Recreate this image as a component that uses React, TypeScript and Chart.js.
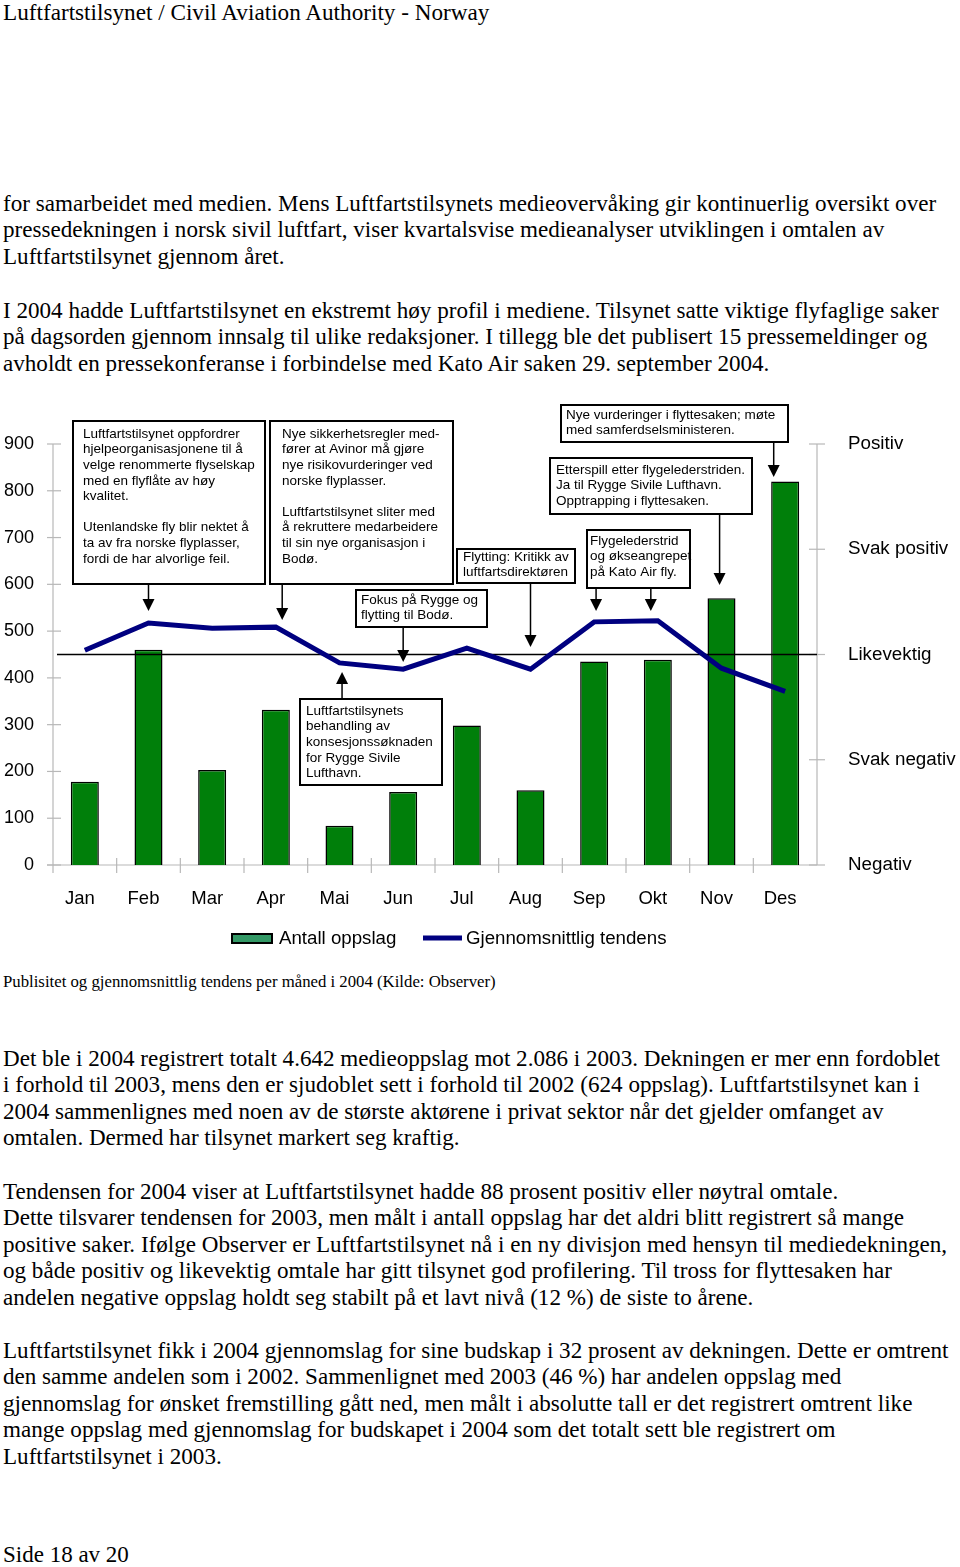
import React, { useEffect, useRef } from "react";
import { Chart, registerables } from "chart.js";

Chart.register(...registerables);

const months = ["Jan", "Feb", "Mar", "Apr", "Mai", "Jun", "Jul", "Aug", "Sep", "Okt", "Nov", "Des"];
const antallOppslag = [178, 460, 203, 332, 84, 156, 298, 160, 435, 439, 570, 820];
const tendens = [3.04, 3.3, 3.25, 3.26, 2.92, 2.86, 3.06, 2.86, 3.31, 3.32, 2.87, 2.65];
const leftTicks = [0, 100, 200, 300, 400, 500, 600, 700, 800, 900];
const rightTickLabels = ["Negativ", "Svak negativ", "Likevektig", "Svak positiv", "Positiv"];
const legendLabels = ["Antall oppslag", "Gjennomsnittlig tendens"];

// annotation boxes (canvas coords are layout, not data)
type Note = { lines: string[]; box: [number, number, number, number]; tx: number; ty: number; arrows: { month: number; y0: number; y1: number }[] };
const notes: Note[] = [
  {
    lines: ["Luftfartstilsynet oppfordrer", "hjelpeorganisasjonene til å", "velge renommerte flyselskap", "med en flyflåte av høy", "kvalitet.", "", "Utenlandske fly blir nektet å", "ta av fra norske flyplasser,", "fordi de har alvorlige feil."],
    box: [73, 421, 265, 584], tx: 83, ty: 434,
    arrows: [{ month: 1, y0: 584, y1: 611 }],
  },
  {
    lines: ["Nye sikkerhetsregler med-", "fører at Avinor må gjøre", "nye risikovurderinger ved", "norske flyplasser.", "", "Luftfartstilsynet sliter med", "å rekruttere medarbeidere", "til sin nye organisasjon i", "Bodø."],
    box: [270, 421, 453, 584], tx: 282, ty: 434,
    arrows: [{ month: 3.1, y0: 584, y1: 620 }],
  },
  {
    lines: ["Fokus på Rygge og", "flytting til Bodø."],
    box: [356, 590, 487, 627], tx: 361, ty: 600,
    arrows: [{ month: 5, y0: 627, y1: 662 }],
  },
  {
    lines: ["Flytting: Kritikk av", "luftfartsdirektøren"],
    box: [457, 549, 575, 583], tx: 463, ty: 557,
    arrows: [{ month: 7, y0: 583, y1: 647 }],
  },
  {
    lines: ["Luftfartstilsynets", "behandling av", "konsesjonssøknaden", "for Rygge Sivile", "Lufthavn."],
    box: [300, 699, 442, 785], tx: 306, ty: 711,
    arrows: [{ month: 4.04, y0: 699, y1: 672 }],
  },
  {
    lines: ["Flygelederstrid", "og økseangrepet", "på Kato Air fly."],
    box: [587, 530, 690, 588], tx: 590, ty: 541,
    arrows: [{ month: 8.03, y0: 588, y1: 611 }, { month: 8.89, y0: 588, y1: 611 }],
  },
  {
    lines: ["Etterspill etter flygelederstriden.", "Ja til Rygge Sivile Lufthavn.", "Opptrapping i flyttesaken."],
    box: [550, 458, 752, 514], tx: 556, ty: 470,
    arrows: [{ month: 9.97, y0: 514, y1: 585 }],
  },
  {
    lines: ["Nye vurderinger i flyttesaken; møte", "med samferdselsministeren."],
    box: [561, 405, 788, 442], tx: 566, ty: 415,
    arrows: [{ month: 10.82, y0: 442, y1: 477 }],
  },
];

const CANVAS_TOP = 395;
const SANS = "Arial, 'Liberation Sans', sans-serif";

const para1 = [
  "for samarbeidet med medien. Mens Luftfartstilsynets medieovervåking gir kontinuerlig oversikt over",
  "pressedekningen i norsk sivil luftfart, viser kvartalsvise medieanalyser utviklingen i omtalen av",
  "Luftfartstilsynet gjennom året.",
];
const para2 = [
  "I 2004 hadde Luftfartstilsynet en ekstremt høy profil i mediene. Tilsynet satte viktige flyfaglige saker",
  "på dagsorden gjennom innsalg til ulike redaksjoner. I tillegg ble det publisert 15 pressemeldinger og",
  "avholdt en pressekonferanse i forbindelse med Kato Air saken 29. september 2004.",
];
const para3 = [
  "Det ble i 2004 registrert totalt 4.642 medieoppslag mot 2.086 i 2003. Dekningen er mer enn fordoblet",
  "i forhold til 2003, mens den er sjudoblet sett i forhold til 2002 (624 oppslag). Luftfartstilsynet kan i",
  "2004 sammenlignes med noen av de største aktørene i privat sektor når det gjelder omfanget av",
  "omtalen. Dermed har tilsynet markert seg kraftig.",
];
const para4 = [
  "Tendensen for 2004 viser at Luftfartstilsynet hadde 88 prosent positiv eller nøytral omtale.",
  "Dette tilsvarer tendensen for 2003, men målt i antall oppslag har det aldri blitt registrert så mange",
  "positive saker. Ifølge Observer er Luftfartstilsynet nå i en ny divisjon med hensyn til mediedekningen,",
  "og både positiv og likevektig omtale har gitt tilsynet god profilering. Til tross for flyttesaken har",
  "andelen negative oppslag holdt seg stabilt på et lavt nivå (12 %) de siste to årene.",
];
const para5 = [
  "Luftfartstilsynet fikk i 2004 gjennomslag for sine budskap i 32 prosent av dekningen. Dette er omtrent",
  "den samme andelen som i 2002. Sammenlignet med 2003 (46 %) har andelen oppslag med",
  "gjennomslag for ønsket fremstilling gått ned, men målt i absolutte tall er det registrert omtrent like",
  "mange oppslag med gjennomslag for budskapet i 2004 som det totalt sett ble registrert om",
  "Luftfartstilsynet i 2003.",
];

function TextLines({ lines, top, size = 23.1, lh = 26.5 }: { lines: string[]; top: number; size?: number; lh?: number }) {
  return (
    <>
      {lines.map((l, i) => (
        <div
          key={i}
          style={{
            position: "absolute",
            left: 3,
            top: top + i * lh - lh / 2,
            height: lh,
            lineHeight: lh + "px",
            fontSize: size,
            whiteSpace: "nowrap",
            fontFamily: "'Liberation Serif', 'Times New Roman', serif",
            color: "#000",
          }}
        >
          {l}
        </div>
      ))}
    </>
  );
}

const notesPlugin = {
  id: "notes",
  beforeDatasetsDraw(chart: any) {
    const ctx = chart.ctx;
    const x = chart.scales.x;
    const y = chart.scales.y;
    const y1 = chart.scales.y1;
    const area = chart.chartArea;
    ctx.save();
    ctx.strokeStyle = "#b8b8b8";
    ctx.lineWidth = 1.2;
    ctx.beginPath();
    ctx.moveTo(area.left, area.top);
    ctx.lineTo(area.left, area.bottom + 8);
    ctx.stroke();
    ctx.beginPath();
    ctx.moveTo(area.left - 6, area.bottom);
    ctx.lineTo(area.right, area.bottom);
    ctx.stroke();
    ctx.beginPath();
    ctx.moveTo(area.right, y1.getPixelForValue(5));
    ctx.lineTo(area.right, area.bottom);
    ctx.stroke();
    leftTicks.forEach((v) => {
      const py = y.getPixelForValue(v);
      ctx.beginPath();
      ctx.moveTo(area.left - 6, py);
      ctx.lineTo(area.left + 8, py);
      ctx.stroke();
    });
    for (let v = 1; v <= 5; v++) {
      const py = y1.getPixelForValue(v);
      ctx.beginPath();
      ctx.moveTo(area.right - 8, py);
      ctx.lineTo(area.right + 8, py);
      ctx.stroke();
    }
    for (let i = 1; i < months.length; i++) {
      const px = x.getPixelForValue(i - 0.5);
      ctx.beginPath();
      ctx.moveTo(px, area.bottom - 7);
      ctx.lineTo(px, area.bottom + 8);
      ctx.stroke();
    }
    ctx.restore();
  },
  afterDatasetDraw(chart: any, args: any) {
    if (args.index !== 1) return;
    const ctx = chart.ctx;
    const area = chart.chartArea;
    const py = chart.scales.y1.getPixelForValue(3);
    ctx.save();
    ctx.strokeStyle = "#000";
    ctx.lineWidth = 1.5;
    ctx.beginPath();
    ctx.moveTo(area.left + 4, py);
    ctx.lineTo(area.right, py);
    ctx.stroke();
    ctx.restore();
  },
  afterDraw(chart: any) {
    const ctx = chart.ctx;
    const x = chart.scales.x;
    ctx.save();
    notes.forEach((n) => {
      const [l, t, r, b] = n.box;
      ctx.fillStyle = "#fff";
      ctx.fillRect(l, t - CANVAS_TOP, r - l, b - t);
      ctx.strokeStyle = "#000";
      ctx.lineWidth = 2;
      ctx.strokeRect(l, t - CANVAS_TOP, r - l, b - t);
      ctx.fillStyle = "#000";
      ctx.font = "13.5px " + SANS;
      ctx.textBaseline = "middle";
      ctx.textAlign = "left";
      n.lines.forEach((line, i) => {
        ctx.fillText(line, n.tx, n.ty - CANVAS_TOP + i * 15.6);
      });
      n.arrows.forEach((a) => {
        const px = x.getPixelForValue(a.month);
        const y0 = a.y0 - CANVAS_TOP;
        const y1 = a.y1 - CANVAS_TOP;
        const dir = y1 > y0 ? 1 : -1;
        const head = 12;
        ctx.strokeStyle = "#000";
        ctx.lineWidth = 1.5;
        ctx.beginPath();
        ctx.moveTo(px, y0);
        ctx.lineTo(px, y1 - dir * head);
        ctx.stroke();
        ctx.beginPath();
        ctx.moveTo(px, y1);
        ctx.lineTo(px - 6, y1 - dir * head);
        ctx.lineTo(px + 6, y1 - dir * head);
        ctx.closePath();
        ctx.fill();
      });
    });
    const ly = 939 - CANVAS_TOP;
    ctx.fillStyle = "#339966";
    ctx.fillRect(232, ly - 5, 40, 9);
    ctx.strokeStyle = "#000";
    ctx.lineWidth = 2;
    ctx.strokeRect(232, ly - 5, 40, 9);
    ctx.strokeStyle = "#000080";
    ctx.lineWidth = 5;
    ctx.beginPath();
    ctx.moveTo(423, ly - 1);
    ctx.lineTo(462, ly - 1);
    ctx.stroke();
    ctx.fillStyle = "#000";
    ctx.font = "18.7px " + SANS;
    ctx.textBaseline = "middle";
    ctx.fillText(legendLabels[0], 279, ly);
    ctx.fillText(legendLabels[1], 466, ly);
    ctx.restore();
  },
};

function ChartCanvas() {
  const ref = useRef<HTMLCanvasElement>(null);
  useEffect(() => {
    if (!ref.current) return;
    const chart = new Chart(ref.current, {
      type: "bar",
      data: {
        labels: months,
        datasets: [
          {
            type: "line",
            label: legendLabels[1],
            data: tendens,
            yAxisID: "y1",
            borderColor: "#000080",
            borderWidth: 5,
            pointRadius: 0,
            tension: 0,
            fill: false,
          } as any,
          {
            type: "bar",
            label: legendLabels[0],
            data: antallOppslag,
            yAxisID: "y",
            backgroundColor: "#007f0a",
            borderColor: "#000",
            borderWidth: 1.5,
            barPercentage: 0.44,
            categoryPercentage: 1,
          },
        ],
      },
      options: {
        responsive: false,
        animation: false,
        devicePixelRatio: 1,
        layout: { padding: { top: 49, left: 0, right: 0, bottom: 0 } },
        plugins: { legend: { display: false }, tooltip: { enabled: false } },
        scales: {
          x: {
            offset: true,
            grid: { display: false, drawTicks: false, tickLength: 0 },
            border: { display: false },
            ticks: { color: "#000", font: { family: SANS, size: 18.5 }, padding: 23, maxRotation: 0, autoSkip: false, labelOffset: -5 },
            afterFit: (s: any) => { s.height = 100; },
          },
          y: {
            position: "left",
            min: 0,
            max: 900,
            grid: { display: false, drawTicks: false, tickLength: 0 },
            border: { display: false },
            ticks: { stepSize: 100, color: "#000", font: { family: SANS, size: 18 }, padding: 19 },
            afterFit: (s: any) => { s.width = 53; },
          },
          y1: {
            position: "right",
            min: 1,
            max: 5,
            grid: { display: false, drawTicks: false, tickLength: 0 },
            border: { display: false },
            ticks: {
              stepSize: 1,
              color: "#000",
              font: { family: SANS, size: 18.8 },
              padding: 31,
              callback: (v: any) => rightTickLabels[Number(v) - 1],
            },
            afterFit: (s: any) => { s.width = 143; },
          },
        },
      },
      plugins: [notesPlugin],
    });
    return () => chart.destroy();
  }, []);
  return (
    <canvas
      ref={ref}
      width={960}
      height={570}
      style={{ position: "absolute", left: 0, top: CANVAS_TOP, width: 960, height: 570 }}
    />
  );
}

export default function App() {
  return (
    <div style={{ position: "absolute", left: 0, top: 0, width: 960, height: 1567, background: "#fff", overflow: "hidden" }}>
      <TextLines lines={["Luftfartstilsynet / Civil Aviation Authority - Norway"]} top={12} size={23.2} />
      <TextLines lines={para1} top={203} />
      <TextLines lines={para2} top={310} />
      <ChartCanvas />
      <TextLines lines={["Publisitet og gjennomsnittlig tendens per måned i 2004 (Kilde: Observer)"]} top={982} size={16.75} lh={20} />
      <TextLines lines={para3} top={1058} />
      <TextLines lines={para4} top={1191} />
      <TextLines lines={para5} top={1350} />
      <TextLines lines={["Side 18 av 20"]} top={1555} size={23} />
    </div>
  );
}
